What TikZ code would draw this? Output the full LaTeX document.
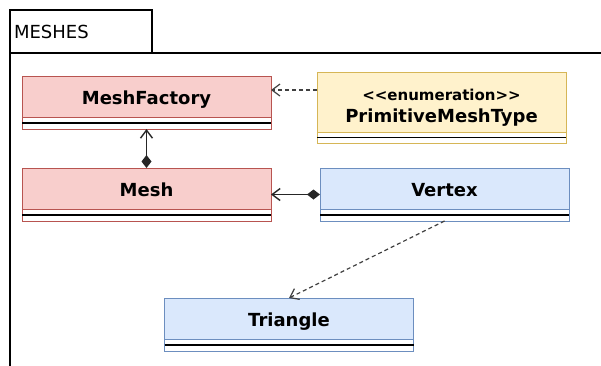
\documentclass[tikz,border=0pt]{standalone}
\usepackage{fontspec}
\setmainfont{DejaVu Sans}
\usetikzlibrary{arrows.meta,positioning}
\definecolor{ClsRed}{HTML}{F8CECC}
\definecolor{ClsRedLine}{HTML}{B85450}
\definecolor{ClsYellow}{HTML}{FFF2CC}
\definecolor{ClsYellowLine}{HTML}{D6B656}
\definecolor{ClsBlue}{HTML}{DAE8FC}
\definecolor{ClsBlueLine}{HTML}{6C8EBF}

\begin{document}
\begin{tikzpicture}[x=1pt,y=-1pt,
  head/.style={draw,line width=1pt,minimum width=249pt,minimum height=41pt,inner sep=0pt,outer sep=0pt,align=center,text height=16pt,text depth=0pt,font=\fontsize{18}{22}\selectfont\bfseries},
  body/.style={draw,fill=white,line width=1pt,minimum width=249pt,minimum height=12pt,inner sep=0pt,outer sep=0pt},
  stripe/.style={line width=1.5pt,black},
  comp/.style={line width=1.4pt,black!85,{Diamond[length=13pt,width=10pt]}-{Straight Barb[length=8pt,width=12pt]}},
  dep/.style={line width=1.2pt,black!75,dash pattern=on 4pt off 3pt,-{Straight Barb[length=8pt,width=12pt]}}]
  \useasboundingbox (0,0) rectangle (601,365);
  % package frame
  \node[draw,line width=1.2pt,anchor=north west,minimum width=142pt,minimum height=43pt,text width=134pt,inner xsep=4pt,outer sep=0pt,align=left,font=\fontsize{18}{21}\selectfont] (pkg) at (10,10) {MESHES};
  \draw[line width=1.2pt] (10,367) -- (pkg.south west) -- (603,53);
  % classes
  \node[head,fill=ClsRed,draw=ClsRedLine] (mf) at (146.5,96.5) {MeshFactory};
  \node[body,draw=ClsRedLine,below=0pt of mf] (mfb) {};
  \node[head,fill=ClsYellow,draw=ClsYellowLine,minimum height=60pt,text height=,text depth=] (pmt) at (441.5,102)
    {\rule{0pt}{22pt}{\fontsize{15}{17}\selectfont <\kern0pt<enumeration>\kern0pt>}\\PrimitiveMeshType};
  \node[body,draw=ClsYellowLine,minimum height=11pt,below=0pt of pmt] (pmtb) {};
  \node[head,fill=ClsRed,draw=ClsRedLine] (mesh) at (146.5,188.5) {Mesh};
  \node[body,draw=ClsRedLine,below=0pt of mesh] (meshb) {};
  \node[head,fill=ClsBlue,draw=ClsBlueLine] (vx) at (444.5,188.5) {Vertex};
  \node[body,draw=ClsBlueLine,below=0pt of vx] (vxb) {};
  \node[head,fill=ClsBlue,draw=ClsBlueLine] (tri) at (289,318.5) {Triangle};
  \node[body,draw=ClsBlueLine,below=0pt of tri] (trib) {};
  \foreach \b in {mfb,pmtb,meshb,vxb,trib}
    \draw[stripe] (\b.west) -- (\b.east);
  % relations
  \draw[comp] (mesh.north) -- (mfb.south);
  \draw[comp] ([yshift=-6pt]vx.west) -- ([yshift=-6pt]mesh.east);
  \coordinate (pmtin) at ([yshift=12pt]pmt.west);
  \draw[dep] (pmtin) -- (pmtin -| mfb.east);
  \draw[dep] (vxb.south) -- (tri.north);
\end{tikzpicture}
\end{document}
